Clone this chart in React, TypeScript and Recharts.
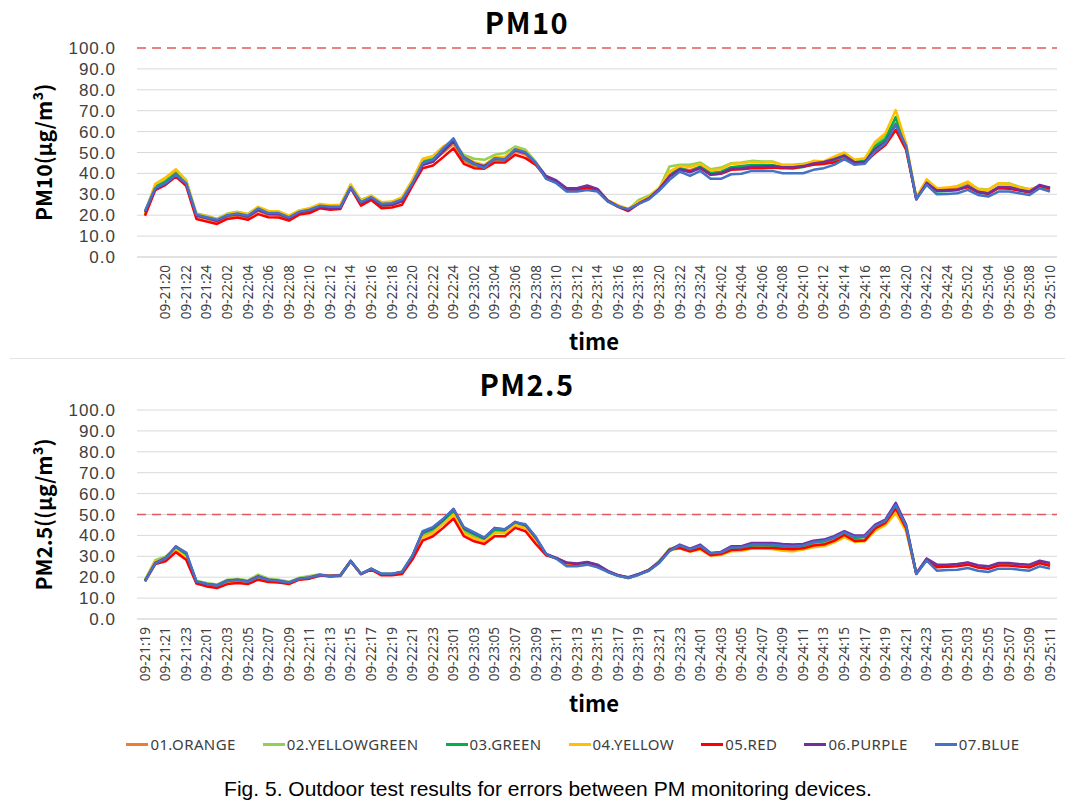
import React from "react";
import {
  LineChart, Line, XAxis, YAxis, CartesianGrid, ReferenceLine,
} from "recharts";

// hourly time axis (hours run 01..24)
const TIMES_PM10 = [
  "09-21:18", "09-21:19", "09-21:20", "09-21:21", "09-21:22", "09-21:23", "09-21:24",
  "09-22:01", "09-22:02", "09-22:03", "09-22:04", "09-22:05", "09-22:06", "09-22:07", "09-22:08",
  "09-22:09", "09-22:10", "09-22:11", "09-22:12", "09-22:13", "09-22:14", "09-22:15", "09-22:16",
  "09-22:17", "09-22:18", "09-22:19", "09-22:20", "09-22:21", "09-22:22", "09-22:23", "09-22:24",
  "09-23:01", "09-23:02", "09-23:03", "09-23:04", "09-23:05", "09-23:06", "09-23:07", "09-23:08",
  "09-23:09", "09-23:10", "09-23:11", "09-23:12", "09-23:13", "09-23:14", "09-23:15", "09-23:16",
  "09-23:17", "09-23:18", "09-23:19", "09-23:20", "09-23:21", "09-23:22", "09-23:23", "09-23:24",
  "09-24:01", "09-24:02", "09-24:03", "09-24:04", "09-24:05", "09-24:06", "09-24:07", "09-24:08",
  "09-24:09", "09-24:10", "09-24:11", "09-24:12", "09-24:13", "09-24:14", "09-24:15", "09-24:16",
  "09-24:17", "09-24:18", "09-24:19", "09-24:20", "09-24:21", "09-24:22", "09-24:23", "09-24:24",
  "09-25:01", "09-25:02", "09-25:03", "09-25:04", "09-25:05", "09-25:06", "09-25:07", "09-25:08",
  "09-25:09", "09-25:10",
];

const TIMES_PM25 = [
  "09-21:19", "09-21:20", "09-21:21", "09-21:22", "09-21:23", "09-21:24",
  "09-22:01", "09-22:02", "09-22:03", "09-22:04", "09-22:05", "09-22:06", "09-22:07", "09-22:08",
  "09-22:09", "09-22:10", "09-22:11", "09-22:12", "09-22:13", "09-22:14", "09-22:15", "09-22:16",
  "09-22:17", "09-22:18", "09-22:19", "09-22:20", "09-22:21", "09-22:22", "09-22:23", "09-22:24",
  "09-23:01", "09-23:02", "09-23:03", "09-23:04", "09-23:05", "09-23:06", "09-23:07", "09-23:08",
  "09-23:09", "09-23:10", "09-23:11", "09-23:12", "09-23:13", "09-23:14", "09-23:15", "09-23:16",
  "09-23:17", "09-23:18", "09-23:19", "09-23:20", "09-23:21", "09-23:22", "09-23:23", "09-23:24",
  "09-24:01", "09-24:02", "09-24:03", "09-24:04", "09-24:05", "09-24:06", "09-24:07", "09-24:08",
  "09-24:09", "09-24:10", "09-24:11", "09-24:12", "09-24:13", "09-24:14", "09-24:15", "09-24:16",
  "09-24:17", "09-24:18", "09-24:19", "09-24:20", "09-24:21", "09-24:22", "09-24:23", "09-24:24",
  "09-25:01", "09-25:02", "09-25:03", "09-25:04", "09-25:05", "09-25:06", "09-25:07", "09-25:08",
  "09-25:09", "09-25:10", "09-25:11",
];

// every other label is printed
const TICKS_PM10 = TIMES_PM10.filter((_, i) => i > 0 && i % 2 === 0);
const TICKS_PM25 = TIMES_PM25.filter((_, i) => i % 2 === 0);

const Y_TICKS = [0, 10, 20, 30, 40, 50, 60, 70, 80, 90, 100];

// PM10 (ug/m3)
const PM10_ORANGE = [20.5, 33.5, 36.5, 40.5, 35.5, 19.5, 18.3, 17, 19.3, 20, 19, 22, 20.2, 20, 18.3, 21, 22, 24, 23.5, 24, 33.8, 25.5, 28.2, 24.5, 24.8, 26.5, 35.5, 45, 46, 50, 54, 46, 43.5, 43, 46.3, 46.5, 50.5, 49, 44.5, 37.8, 35.7, 31.8, 31.8, 32.8, 31.8, 26.8, 24.2, 22.5, 25.8, 28.2, 32.3, 39.5, 42.5, 41.5, 43.2, 40.3, 40.5, 42.8, 43, 43.7, 43.5, 43.8, 42.8, 42.7, 43.5, 44.8, 45, 46.2, 48, 45.3, 46, 52, 55.5, 64, 52.5, 28, 35.8, 31.8, 32, 32.5, 34.5, 31.5, 30.8, 33.5, 33.5, 32.2, 31.2, 33.5, 32.5];
const PM10_YELLOWGREEN = [21.5, 34.5, 37.5, 41.8, 36.8, 20.8, 19.8, 18.2, 20.8, 21.6, 20.6, 23.8, 21.8, 21.7, 19.7, 22.2, 23.2, 25, 24.7, 24.8, 34.5, 27.3, 29.2, 26, 26.3, 28.3, 36.5, 46.5, 48, 52.5, 55, 48.9, 47, 46.5, 48.9, 49.7, 52.9, 51.3, 45.5, 38.3, 36.2, 32.3, 32.3, 33.4, 32, 27, 24.5, 22.8, 27.3, 29.3, 32.9, 43.3, 44.1, 44.1, 45.2, 42, 42.8, 44.9, 45.2, 46, 45.7, 45.7, 44.1, 44.1, 44.6, 45.5, 45.2, 47.3, 49.2, 46, 46.8, 54, 58, 66, 54, 28.3, 36.5, 32.5, 33, 33.6, 35.8, 32.6, 32.3, 35.2, 35.3, 33.6, 32.4, 33.5, 32.8];
const PM10_GREEN = [21, 33.5, 36, 40, 35.5, 20, 18.8, 17.5, 19.8, 20.5, 19.5, 22.8, 20.8, 20.7, 18.8, 21.4, 22.3, 24.2, 23.5, 23.8, 33.5, 25.8, 28.3, 24.8, 25, 27, 35.3, 45.5, 46.8, 51, 55.5, 47, 44.3, 43, 47, 46.8, 51.5, 50, 44.8, 37.8, 35.6, 31.6, 31.7, 32.7, 31.6, 26.7, 24.3, 22.7, 25.8, 28, 32.3, 39, 42.5, 41, 43.3, 40, 40.8, 43, 43.5, 44, 44, 44, 42.8, 42.5, 43, 44.5, 44.5, 46, 48.5, 45.5, 46, 53, 56.5, 67, 53.5, 27.8, 35.5, 31.3, 31.6, 32, 34, 31, 30.3, 33.2, 33.3, 32, 31, 33.3, 32.2];
const PM10_YELLOW = [21, 35, 38, 42, 36.5, 20.5, 19.5, 18, 20.5, 21.5, 20.5, 24, 22, 21.8, 19.8, 22.3, 23.3, 25.4, 24.8, 25, 34.8, 27, 29.4, 26.2, 26.5, 28.6, 36.9, 47, 48.4, 52.9, 55.5, 48, 45.5, 44, 47.8, 48, 52, 50.5, 45, 38, 36, 32.5, 32.5, 33.5, 32.3, 27.2, 24.8, 23, 26.5, 28.8, 33, 41, 43.5, 43, 44.5, 41.5, 42, 44.5, 44.8, 45.5, 45.2, 45.5, 44, 43.8, 44.2, 46, 45.7, 48, 50, 46.5, 47.3, 55.2, 59.2, 70.3, 54.5, 28.5, 37.2, 32.9, 33.2, 34, 36.1, 32.4, 32.1, 35.3, 35, 33.4, 32.4, 33.8, 33];
const PM10_RED = [19.7, 32, 34.5, 38.5, 34, 18.2, 17, 15.8, 18.2, 18.9, 17.8, 20.5, 19, 18.9, 17.4, 20.3, 21, 23.3, 22.6, 23, 33, 24.6, 27.3, 23.3, 23.7, 25, 34, 42.5, 43.8, 47.8, 52, 44.6, 42.5, 42.2, 45.2, 45.2, 48.9, 47.3, 44.1, 38.2, 35.8, 32.1, 32.1, 33.2, 32, 26.8, 24, 22, 25.5, 28, 32.5, 38.5, 41.7, 40.9, 42.5, 39.3, 39.8, 41.7, 42, 42.5, 42.5, 42.8, 42.5, 42.5, 43.3, 44.1, 44.6, 45.2, 46.8, 44.9, 45.2, 49.7, 53.6, 60.8, 51.3, 28, 35, 31.8, 32, 32.3, 33.4, 31, 30.2, 32.9, 32.6, 31.8, 31, 34, 32.9];
const PM10_PURPLE = [21.5, 32.5, 35, 39, 35, 19.8, 18.6, 17.3, 19.8, 20.5, 19.3, 22.5, 20.6, 20.5, 18.6, 21.4, 22.3, 24, 23.5, 23.6, 33.2, 25.8, 28.2, 24.8, 25, 26.8, 35, 44, 45.5, 50.5, 55.5, 47.8, 44.8, 43.5, 47, 46.8, 51, 49.8, 45, 38.8, 36.6, 32.9, 32.9, 34.2, 32.6, 27, 24.2, 22.5, 25.5, 28, 32.5, 38.5, 42, 40.5, 42.7, 39.5, 40, 42.2, 42.5, 43.2, 43.3, 43.5, 43, 43, 43.5, 44.8, 45.5, 46.8, 48.5, 45.3, 45.5, 51.5, 55, 63.5, 53, 27.5, 35.5, 31.7, 31.8, 32.1, 33.9, 31.2, 30.4, 33.5, 33.5, 32.2, 31.2, 34.5, 33.2];
const PM10_BLUE = [22, 33, 35.3, 39.3, 35.3, 20.2, 19, 17.8, 20, 20.8, 19.7, 23.2, 21, 21, 19, 21.6, 22.6, 24.5, 24, 24, 33.4, 26.2, 28.6, 25.4, 25.7, 27.6, 35.3, 44.9, 46.5, 52, 56.8, 47.3, 44.6, 42.5, 47.3, 46.5, 51.6, 50.1, 44.9, 37.4, 35.3, 31.3, 31.3, 32.1, 31.3, 26.5, 24.1, 22.9, 25.4, 27.6, 31.8, 36.9, 40.9, 38.8, 41.2, 37.4, 37.4, 39.6, 39.8, 41.2, 41.2, 41.2, 40.1, 40.1, 40.1, 41.7, 42.5, 44.1, 46.8, 44.1, 44.6, 50.5, 54.4, 63.2, 52.9, 27.8, 34.5, 30, 30.2, 30.5, 32.1, 29.7, 28.9, 31.3, 31.3, 30.5, 29.7, 32.9, 31.3];

// PM2.5 (ug/m3)
const PM25_ORANGE = [18.3, 27, 28.5, 33.2, 29.8, 17.6, 16.3, 15.6, 17.7, 18.2, 17.4, 19.6, 18.3, 18, 17, 19.1, 19.6, 20.9, 20.6, 20.9, 27.7, 21.6, 23.8, 21.3, 21.3, 22, 29.4, 39.5, 41.5, 45.5, 50.2, 41.5, 39, 37.3, 41.5, 41.5, 45, 43.5, 37.6, 30.8, 29, 26.7, 26.2, 27, 25.6, 22.7, 20.8, 19.7, 21.3, 23.3, 27, 33, 34.3, 32.6, 33.9, 30.7, 31.2, 33.3, 33.5, 34.3, 34.3, 34.2, 33.8, 33.6, 34, 35.4, 35.9, 37.8, 40.3, 37.8, 38, 43.5, 46, 52.5, 43.5, 21.7, 28.6, 25.4, 25.6, 25.8, 26.6, 25.2, 24.6, 26.2, 26.2, 25.7, 25.2, 27.2, 26];
const PM25_YELLOWGREEN = [18.8, 28.2, 30, 33.5, 30.5, 18.3, 17.2, 16.5, 18.8, 19.2, 18.5, 21.2, 19.3, 18.8, 17.8, 19.8, 20.6, 21.4, 20.6, 21.2, 27.8, 21.6, 24, 21.6, 21.6, 22.8, 30.3, 40.5, 42.5, 46.8, 51, 42.5, 40, 38.2, 42.5, 42.2, 45.8, 44.2, 38.3, 31, 29.2, 26.6, 26.2, 27, 25.5, 22.8, 20.8, 19.7, 21.4, 23.6, 27.8, 33.6, 35, 33.2, 34.6, 31.2, 31.6, 34, 34.2, 35.2, 35.2, 35, 34.6, 34.3, 34.8, 36.4, 37, 38.8, 41.2, 38.9, 39.2, 44.5, 47, 53.5, 44.3, 21.8, 28.8, 25.6, 25.8, 26.2, 26.9, 25.4, 25, 26.5, 26.6, 26, 25.5, 27.3, 26.2];
const PM25_GREEN = [18.5, 27, 29, 33.8, 30.8, 17.9, 16.8, 16.2, 18.3, 18.7, 18, 20.3, 18.4, 17.6, 17.1, 19, 19.5, 21, 20.2, 20.6, 27.6, 21.5, 23.9, 21.4, 21.4, 22.5, 30, 41, 43, 47, 51.5, 43, 40.5, 38.4, 42.8, 42.3, 45.8, 44.4, 38.6, 31, 29, 26.2, 25.8, 26.6, 25.2, 22.6, 20.7, 19.6, 21.2, 23.3, 27.2, 33, 35, 33.2, 34.8, 31.2, 31.6, 34, 34.2, 35.2, 35.3, 35.2, 34.7, 34.5, 35, 36.6, 37.2, 39, 41.4, 38.8, 39.3, 44.8, 47.2, 54.3, 44.8, 21.6, 28.6, 25, 25.2, 25.5, 26.3, 24.8, 24.3, 25.8, 25.9, 25.3, 24.8, 26.8, 25.6];
const PM25_YELLOW = [18.5, 27.5, 28.8, 33, 29.5, 17.5, 16.2, 15.5, 17.5, 18, 17.3, 19.5, 18.2, 18, 17, 19, 19.6, 20.9, 20.6, 20.8, 27.6, 21.5, 23.8, 21.2, 21.2, 22, 29.2, 39, 41, 45.5, 50, 41, 38.5, 37, 41, 41, 45, 43.5, 37.5, 30.8, 29.1, 26.5, 26, 26.8, 25.4, 22.6, 20.8, 19.6, 21.3, 23.3, 27, 32.8, 33.8, 32.2, 33.2, 30.3, 30.6, 32.4, 32.7, 33.7, 33.7, 33.5, 32.7, 32.4, 33.2, 34.3, 34.8, 36.7, 39.1, 36.9, 37.2, 42.3, 44.9, 50.8, 42, 21.7, 28.4, 25.2, 25.4, 25.7, 26.4, 25, 24.4, 26, 26, 25.5, 25, 27, 25.8];
const PM25_RED = [18, 26.3, 27.6, 32, 28.4, 17, 15.6, 14.8, 16.7, 17.2, 16.7, 18.8, 17.7, 17.5, 16.7, 18.8, 19.3, 20.7, 20.7, 20.8, 27.5, 21.6, 23.6, 20.9, 20.9, 21.5, 28.4, 37.5, 39.6, 43.6, 48.1, 39.6, 37.2, 35.9, 39.6, 39.6, 43.6, 42, 35.9, 30.5, 29, 26.8, 26.3, 27.1, 25.7, 22.8, 20.9, 19.7, 21.4, 23.4, 27, 33.2, 34, 32.4, 33.7, 30.5, 31.1, 33, 33.3, 34, 34, 34, 33.6, 33.4, 33.8, 35.2, 35.6, 37.4, 40.2, 37.3, 37.6, 43.3, 46, 53, 43.5, 21.6, 28.2, 24.8, 25, 25.2, 26, 24.6, 24, 25.6, 25.6, 25.1, 24.7, 26.8, 25.5];
const PM25_PURPLE = [18.3, 26.8, 29.2, 34.8, 31.6, 17.7, 16.7, 16, 18.3, 18.8, 18, 20.4, 18.8, 18.3, 17.5, 19.3, 19.9, 21.2, 20.4, 20.9, 27.9, 21.5, 24.1, 21.5, 21.5, 22.5, 30, 41.7, 43.6, 47.6, 52.7, 43.6, 41.2, 38.8, 43.6, 42.8, 46.5, 44.9, 38.8, 31.1, 29.2, 27, 26.6, 27.3, 26, 23, 21, 20, 21.5, 23.5, 27.3, 32.8, 35.6, 33.7, 35.6, 31.6, 32.1, 34.8, 34.8, 36.4, 36.4, 36.4, 35.9, 35.6, 35.9, 37.5, 38, 39.6, 42, 39.9, 40.1, 45.2, 47.6, 55.6, 45.2, 21.8, 28.9, 26, 26, 26.3, 27.1, 25.7, 25.2, 26.8, 26.8, 26.3, 26, 27.9, 26.8];
const PM25_BLUE = [18, 26.5, 29, 34.5, 31.8, 18, 16.8, 16, 18.2, 18.6, 17.8, 20.2, 18.6, 18.2, 17.4, 19.2, 19.8, 21, 20.6, 20.8, 27.6, 21.7, 24, 21.6, 21.6, 22.6, 30.3, 42, 44, 48, 52.5, 44, 41.5, 39, 43.3, 43, 46.2, 45.3, 39.3, 31, 28.8, 25.2, 25.2, 26, 24.7, 22.5, 20.7, 19.6, 21.2, 23.1, 26.8, 32.4, 35.2, 33.3, 35, 31.4, 31.8, 34.2, 34.3, 35.6, 35.6, 35.5, 35, 34.8, 35.2, 36.8, 37.3, 39, 41.5, 39.2, 39.5, 44.5, 47, 54.5, 44.5, 21.5, 28, 23.1, 23.4, 23.6, 24.4, 23.1, 22.5, 24.1, 24.1, 23.6, 23.1, 25.2, 24.1];

const DEVICES = [
  { key: "orange", name: "01.ORANGE", color: "#ED7D31" },
  { key: "yellowgreen", name: "02.YELLOWGREEN", color: "#92D050" },
  { key: "green", name: "03.GREEN", color: "#00B050" },
  { key: "yellow", name: "04.YELLOW", color: "#FFC000" },
  { key: "red", name: "05.RED", color: "#FF0000" },
  { key: "purple", name: "06.PURPLE", color: "#7030A0" },
  { key: "blue", name: "07.BLUE", color: "#4472C4" },
];

const PM10_SERIES = {
  orange: PM10_ORANGE, yellowgreen: PM10_YELLOWGREEN, green: PM10_GREEN, yellow: PM10_YELLOW,
  red: PM10_RED, purple: PM10_PURPLE, blue: PM10_BLUE,
};
const PM25_SERIES = {
  orange: PM25_ORANGE, yellowgreen: PM25_YELLOWGREEN, green: PM25_GREEN, yellow: PM25_YELLOW,
  red: PM25_RED, purple: PM25_PURPLE, blue: PM25_BLUE,
};

const SANS = "'Noto Sans', 'DejaVu Sans', sans-serif";
const TICK_FONT = "'Liberation Sans', Arial, sans-serif";
const BOLD = "'Noto Sans CJK KR', 'Noto Sans', sans-serif";

function XTick(props: any) {
  const { x, y, payload } = props;
  return (
    <g transform={`translate(${x},${y})`}>
      <text
        transform="rotate(-90)"
        textAnchor="end"
        dy="0.35em"
        fill="#404040"
        fontSize={13.5}
        fontFamily={SANS}
      >
        {payload.value}
      </text>
    </g>
  );
}

interface PanelProps {
  title: string;
  yTitle: string;
  times: string[];
  ticks: string[];
  series: Record<string, number[]>;
  limit: number;
  grid: number[];
  top: number;
}

function Panel({ title, yTitle, times, ticks, series, limit, grid, top }: PanelProps) {
  const data = times.map((t, i) => {
    const row: Record<string, any> = { t };
    DEVICES.forEach((d) => { row[d.key] = series[d.key][i]; });
    return row;
  });

  return (
    <div style={{ position: "absolute", left: 0, top, width: 1076, height: 360 }}>
      <div
        style={{
          position: "absolute", left: 0, width: 1054, top: 3, textAlign: "center",
          fontFamily: BOLD, fontWeight: 700, fontSize: 29, lineHeight: "36px", color: "#000",
          letterSpacing: 1.5,
        }}
      >
        {title}
      </div>
      <LineChart width={1076} height={360} data={data} margin={{ top: 48, right: 19, left: 0, bottom: 0 }}>
        <CartesianGrid vertical={false} stroke="#D9D9D9" horizontalValues={grid} />
        <XAxis
          dataKey="t"
          ticks={ticks}
          interval={0}
          tick={<XTick />}
          tickLine={false}
          axisLine={{ stroke: "#D9D9D9" }}
          padding={{ left: 8, right: 7 }}
          height={103}
        />
        <YAxis
          domain={[0, 100]}
          ticks={Y_TICKS}
          interval={0}
          tickFormatter={(v: number) => v.toFixed(1)}
          width={137}
          axisLine={false}
          tickLine={false}
          tickMargin={15}
          tick={{ fill: "#404040", fontSize: 17, fontFamily: TICK_FONT, letterSpacing: 1 }}
          label={{
            value: yTitle, angle: -90, position: "insideLeft", offset: 45,
            style: { textAnchor: "middle", fontFamily: BOLD, fontWeight: 700, fontSize: 21, fill: "#000" },
          }}
        />
        <ReferenceLine y={limit} stroke="#E25A5A" strokeDasharray="9 6" strokeWidth={1.6} />
        {DEVICES.map((d) => (
          <Line
            key={d.key}
            type="linear"
            dataKey={d.key}
            name={d.name}
            stroke={d.color}
            strokeWidth={2.5}
            strokeLinejoin="round"
            dot={false}
            isAnimationActive={false}
          />
        ))}
      </LineChart>
      <div
        style={{
          position: "absolute", left: 544, width: 100, top: 326, textAlign: "center",
          fontFamily: BOLD, fontWeight: 700, fontSize: 22, lineHeight: "28px", color: "#000",
        }}
      >
        time
      </div>
    </div>
  );
}

export default function App() {
  return (
    <div
      style={{
        position: "absolute", left: 0, top: 0, width: 1076, height: 806,
        background: "#fff", overflow: "hidden",
      }}
    >
      <Panel
        title="PM10"
        yTitle="PM10(μg/m³)"
        times={TIMES_PM10}
        ticks={TICKS_PM10}
        series={PM10_SERIES}
        limit={100}
        grid={[0, 10, 20, 30, 40, 50, 60, 70, 80, 90]}
        top={0}
      />
      <div style={{ position: "absolute", left: 10, top: 358, width: 1055, height: 1, background: "#E3E3E3" }} />
      <Panel
        title="PM2.5"
        yTitle="PM2.5((μg/m³)"
        times={TIMES_PM25}
        ticks={TICKS_PM25}
        series={PM25_SERIES}
        limit={50}
        grid={Y_TICKS}
        top={362}
      />
      <div
        style={{
          position: "absolute", left: 0, width: 1146, top: 734, display: "flex",
          justifyContent: "center", gap: 27, fontFamily: SANS, fontSize: 15, color: "#404040",
          lineHeight: "20px", letterSpacing: 0.4,
        }}
      >
        {DEVICES.map((d) => (
          <div key={d.key} style={{ display: "flex", alignItems: "center" }}>
            <span style={{ display: "inline-block", width: 22, height: 3, background: d.color, marginRight: 2 }} />
            <span>{d.name}</span>
          </div>
        ))}
      </div>
      <div
        style={{
          position: "absolute", left: 10, width: 1076, top: 776, textAlign: "center",
          fontFamily: "'Liberation Sans', Arial, sans-serif", fontSize: 21, lineHeight: "26px", color: "#000",
        }}
      >
        Fig. 5. Outdoor test results for errors between PM monitoring devices.
      </div>
    </div>
  );
}
